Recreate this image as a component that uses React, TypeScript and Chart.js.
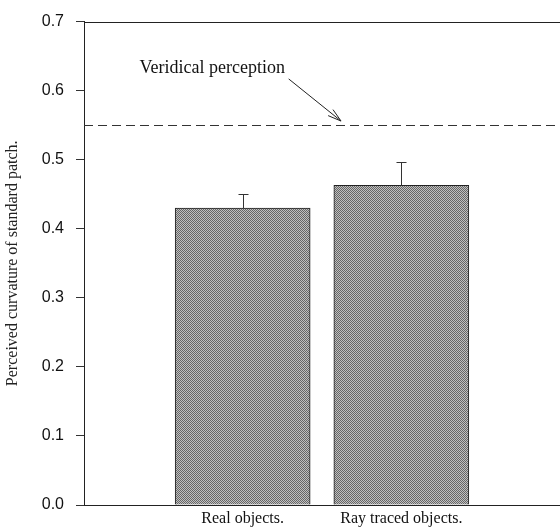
import React, { useEffect, useRef } from 'react';
import { Chart, registerables } from 'chart.js';

Chart.register(...registerables);

// ---- data ----
const categories = ['Real objects.', 'Ray traced objects.'];
const categoryPositions = [1, 2];
const means = [0.43, 0.463];
const errorsUp = [0.021, 0.033];
const veridicalValue = 0.55;
const yMin = 0;
const yMax = 0.7;
const yStep = 0.1;
const yTitle = 'Perceived curvature of standard patch.';
const annotationText = 'Veridical perception';
const annotationTextAt = [0.35, 0.632];
const arrowFrom = [1.29, 0.617];
const arrowTo = [1.62, 0.556];

function makePattern(): CanvasPattern | string {
  const c = document.createElement('canvas');
  c.width = 4;
  c.height = 4;
  const g = c.getContext('2d');
  if (!g) return '#a8a8a8';
  g.fillStyle = '#c0c0c0';
  g.fillRect(0, 0, 4, 4);
  g.fillStyle = '#666';
  for (let i = 0; i < 4; i++) {
    g.fillRect(i, i, 1, 1);
    g.fillRect((i + 2) % 4, i, 1, 1);
  }
  const p = g.createPattern(c, 'repeat');
  return p || '#a8a8a8';
}

const overlayPlugin = {
  id: 'overlay',
  afterDatasetsDraw(chart: any) {
    const { ctx, chartArea } = chart;
    const xs = chart.scales.x;
    const ys = chart.scales.y;
    ctx.save();
    // top frame line
    ctx.strokeStyle = '#222';
    ctx.lineWidth = 1;
    ctx.beginPath();
    ctx.moveTo(chartArea.left, Math.round(chartArea.top) + 0.5);
    ctx.lineTo(chartArea.right, Math.round(chartArea.top) + 0.5);
    ctx.stroke();

    // dashed veridical line
    const vy = Math.round(ys.getPixelForValue(veridicalValue)) + 0.5;
    ctx.setLineDash([9, 5]);
    ctx.strokeStyle = '#333';
    ctx.beginPath();
    ctx.moveTo(chartArea.left, vy);
    ctx.lineTo(chartArea.right, vy);
    ctx.stroke();
    ctx.setLineDash([]);

    // error bars (upper only)
    ctx.strokeStyle = '#333';
    ctx.lineWidth = 1;
    categoryPositions.forEach((pos, i) => {
      const x = Math.round(xs.getPixelForValue(pos)) + 0.5;
      const y0 = ys.getPixelForValue(means[i]);
      const y1 = Math.round(ys.getPixelForValue(means[i] + errorsUp[i])) + 0.5;
      ctx.beginPath();
      ctx.moveTo(x, y0);
      ctx.lineTo(x, y1);
      ctx.moveTo(x - 5, y1);
      ctx.lineTo(x + 5, y1);
      ctx.stroke();
    });

    // annotation text
    ctx.fillStyle = '#111';
    ctx.font = '18px "Liberation Serif", "Times New Roman", serif';
    ctx.textAlign = 'left';
    ctx.textBaseline = 'middle';
    ctx.fillText(annotationText, xs.getPixelForValue(annotationTextAt[0]), ys.getPixelForValue(annotationTextAt[1]));

    // arrow
    const ax0 = xs.getPixelForValue(arrowFrom[0]);
    const ay0 = ys.getPixelForValue(arrowFrom[1]);
    const ax1 = xs.getPixelForValue(arrowTo[0]);
    const ay1 = ys.getPixelForValue(arrowTo[1]);
    ctx.strokeStyle = '#222';
    ctx.beginPath();
    ctx.moveTo(ax0, ay0);
    ctx.lineTo(ax1, ay1);
    const ang = Math.atan2(ay1 - ay0, ax1 - ax0);
    const hl = 14;
    const spread = 0.28;
    ctx.moveTo(ax1, ay1);
    ctx.lineTo(ax1 - hl * Math.cos(ang - spread), ay1 - hl * Math.sin(ang - spread));
    ctx.moveTo(ax1, ay1);
    ctx.lineTo(ax1 - hl * Math.cos(ang + spread), ay1 - hl * Math.sin(ang + spread));
    ctx.stroke();
    ctx.restore();
  },
};

export default function App() {
  const ref = useRef<HTMLCanvasElement>(null);
  useEffect(() => {
    document.body.style.margin = '0';
    const canvas = ref.current;
    if (!canvas) return;
    const pattern = makePattern();
    const chart = new Chart(canvas, {
      type: 'bar',
      data: {
        datasets: [
          {
            data: categoryPositions.map((x, i) => ({ x, y: means[i] })),
            backgroundColor: pattern as any,
            borderColor: '#222',
            borderWidth: 1,
            borderSkipped: 'bottom',
            barThickness: 135,
          },
        ],
      },
      options: {
        responsive: false,
        animation: false,
        layout: { padding: { top: 20, right: 0, bottom: 0, left: 0 } },
        plugins: { legend: { display: false }, tooltip: { enabled: false } },
        scales: {
          x: {
            type: 'linear',
            min: 0,
            max: 3,
            offset: false,
            afterBuildTicks: (scale: any) => {
              scale.ticks = categoryPositions.map((v) => ({ value: v }));
            },
            afterFit: (scale: any) => {
              scale.height = 22;
            },
            ticks: {
              autoSkip: false,
              maxRotation: 0,
              padding: 4,
              color: '#111',
              font: { family: '"Liberation Serif", "Times New Roman", serif', size: 16 },
              callback: (v: any) => {
                const i = categoryPositions.indexOf(Number(v));
                return i >= 0 ? categories[i] : '';
              },
            },
            grid: { display: false, drawTicks: false },
            border: { display: true, color: '#222', width: 1 },
          },
          y: {
            min: yMin,
            max: yMax,
            afterFit: (scale: any) => {
              scale.width = 84;
            },
            ticks: {
              stepSize: yStep,
              padding: 12,
              color: '#111',
              font: { family: '"Liberation Sans", Arial, sans-serif', size: 16 },
              callback: (v: any) => Number(v).toFixed(1),
            },
            grid: { drawOnChartArea: false, drawTicks: true, tickLength: 8, color: '#333' },
            border: { display: true, color: '#222', width: 1 },
            title: {
              display: true,
              text: yTitle,
              color: '#222',
              padding: { top: 3, bottom: 4 },
              font: { family: '"Liberation Serif", "Times New Roman", serif', size: 16 },
            },
          },
        },
      },
      plugins: [overlayPlugin],
    });
    return () => chart.destroy();
  }, []);
  return (
    <div style={{ width: 560, height: 527, background: '#fff' }}>
      <canvas ref={ref} width={560} height={527} />
    </div>
  );
}
